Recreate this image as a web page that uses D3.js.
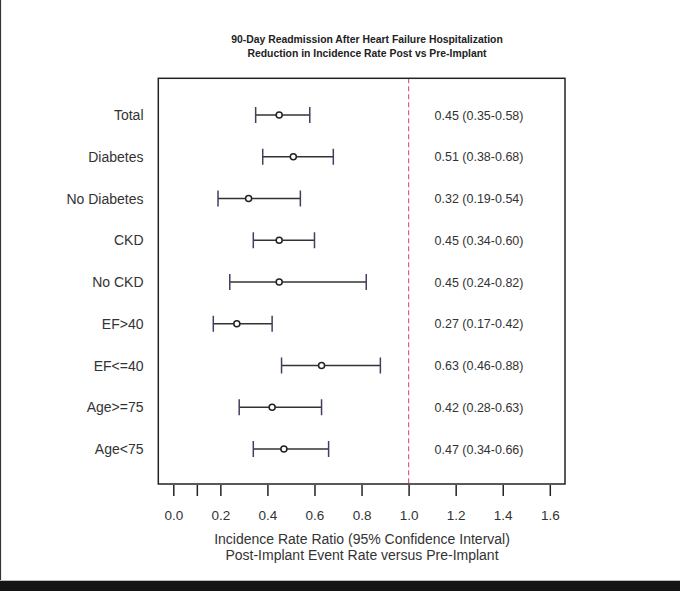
<!DOCTYPE html>
<html>
<head>
<meta charset="utf-8">
<script src="https://cdn.jsdelivr.net/npm/d3@7"></script>
<style>
  html, body { margin: 0; padding: 0; background: #fff; }
  svg { display: block; }
  text { font-family: "Liberation Sans", Arial, sans-serif; }
</style>
</head>
<body>
<script>
// ---- data ----
const categories = ["Total", "Diabetes", "No Diabetes", "CKD", "No CKD", "EF>40", "EF<=40", "Age>=75", "Age<75"];
const estimates  = [0.45, 0.51, 0.32, 0.45, 0.45, 0.27, 0.63, 0.42, 0.47];
const lowerCI    = [0.35, 0.38, 0.19, 0.34, 0.24, 0.17, 0.46, 0.28, 0.34];
const upperCI    = [0.58, 0.68, 0.54, 0.60, 0.82, 0.42, 0.88, 0.63, 0.66];
const tickValues = [0, 0.1, 0.2, 0.4, 0.6, 0.8, 1.0, 1.2, 1.4, 1.6];
const tickLabels = ["0.0", "", "0.2", "0.4", "0.6", "0.8", "1.0", "1.2", "1.4", "1.6"];
const titleLines = ["90-Day Readmission After Heart Failure Hospitalization", "Reduction in Incidence Rate Post vs Pre-Implant"];
const xTitleLines = ["Incidence Rate Ratio (95% Confidence Interval)", "Post-Implant Event Rate versus Pre-Implant"];
const refValue = 1.0;

const rows = categories.map((c, i) => ({ cat: c, est: estimates[i], lo: lowerCI[i], hi: upperCI[i] }));
const fmt = d3.format(".2f");

const W = 680, H = 591;
const box = { left: 158.3, right: 565, top: 78.3, bottom: 484 };

const svg = d3.select("body").append("svg").attr("width", W).attr("height", H);

// frame decorations of the screenshot
svg.append("rect").attr("x", 0).attr("y", 0).attr("width", W).attr("height", H).attr("fill", "#fff");
svg.append("line").attr("x1", 0.5).attr("x2", 0.5).attr("y1", 0).attr("y2", H).attr("stroke", "#333").attr("stroke-width", 1.2);
svg.append("rect").attr("x", 0).attr("y", 580).attr("width", W).attr("height", 1).attr("fill", "#bbb");
svg.append("rect").attr("x", 0).attr("y", 581).attr("width", W).attr("height", 10).attr("fill", "#141414");

const x = d3.scaleLinear().domain([0, 1.6]).range([173.3, 549.8]);
const y = d3.scalePoint().domain(categories).range([115, 449]);

// title
svg.append("g").selectAll("text").data(titleLines).join("text")
  .attr("x", 367).attr("y", (d, i) => 43 + i * 13.5)
  .attr("text-anchor", "middle")
  .attr("font-size", 10.4).attr("font-weight", "bold").attr("fill", "#222")
  .text(d => d);

// reference line
svg.append("line")
  .attr("x1", x(refValue)).attr("x2", x(refValue))
  .attr("y1", box.top).attr("y2", box.bottom)
  .attr("stroke", "#d9607c").attr("stroke-width", 1.2).attr("stroke-dasharray", "5,3");

// box
svg.append("rect")
  .attr("x", box.left).attr("y", box.top)
  .attr("width", box.right - box.left).attr("height", box.bottom - box.top)
  .attr("fill", "none").attr("stroke", "#222").attr("stroke-width", 1.5);

// axis
const axis = d3.axisBottom(x).tickValues(tickValues).tickSize(11).tickPadding(14)
  .tickFormat((d, i) => tickLabels[i]);
const gAxis = svg.append("g").attr("transform", `translate(0,${485})`).call(axis);
gAxis.select(".domain").remove();
gAxis.selectAll(".tick line").attr("stroke", "#222").attr("stroke-width", 1.5);
gAxis.selectAll(".tick text").attr("font-size", 13.5).attr("fill", "#333")
  .attr("font-family", "'Liberation Sans', Arial, sans-serif");

// axis title
svg.append("g").selectAll("text").data(xTitleLines).join("text")
  .attr("x", 362).attr("y", (d, i) => 544 + i * 16)
  .attr("text-anchor", "middle").attr("font-size", 14).attr("fill", "#333")
  .text(d => d);

// category labels
svg.append("g").selectAll("text").data(rows).join("text")
  .attr("x", 143.5).attr("y", d => y(d.cat) + 5)
  .attr("text-anchor", "end").attr("font-size", 14).attr("fill", "#333")
  .text(d => d.cat);

// CI lines
const g = svg.append("g");
g.selectAll("line.ci").data(rows).join("line").attr("class", "ci")
  .attr("x1", d => x(d.lo)).attr("x2", d => x(d.hi))
  .attr("y1", d => y(d.cat)).attr("y2", d => y(d.cat))
  .attr("stroke", "#333").attr("stroke-width", 1.5);
g.selectAll("line.capl").data(rows).join("line").attr("class", "capl")
  .attr("x1", d => x(d.lo)).attr("x2", d => x(d.lo))
  .attr("y1", d => y(d.cat) - 8).attr("y2", d => y(d.cat) + 8)
  .attr("stroke", "#4a3a5e").attr("stroke-width", 1.5);
g.selectAll("line.caph").data(rows).join("line").attr("class", "caph")
  .attr("x1", d => x(d.hi)).attr("x2", d => x(d.hi))
  .attr("y1", d => y(d.cat) - 8).attr("y2", d => y(d.cat) + 8)
  .attr("stroke", "#4a3a5e").attr("stroke-width", 1.5);
g.selectAll("circle").data(rows).join("circle")
  .attr("cx", d => x(d.est)).attr("cy", d => y(d.cat)).attr("r", 3)
  .attr("fill", "#fff").attr("stroke", "#222").attr("stroke-width", 1.5);

// right-side value labels
svg.append("g").selectAll("text").data(rows).join("text")
  .attr("x", 434.5).attr("y", d => y(d.cat) + 4.5)
  .attr("font-size", 12.5).attr("fill", "#333")
  .text(d => `${fmt(d.est)} (${fmt(d.lo)}-${fmt(d.hi)})`);
</script>
</body>
</html>
